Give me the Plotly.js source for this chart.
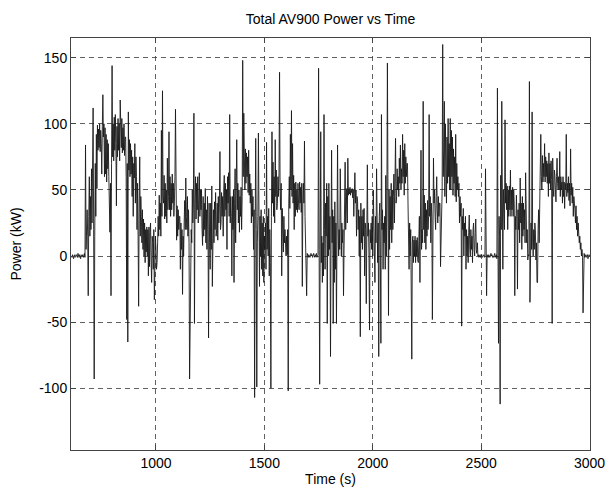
<!DOCTYPE html>
<html>
<head>
<meta charset="utf-8">
<script src="https://cdn.plot.ly/plotly-3.0.1.min.js"></script>
<style>
  html, body { margin: 0; padding: 0; background: #fff; }
  #chart { width: 608px; height: 489px; }
</style>
</head>
<body>
<div id="chart"></div>
<script>
// Sampling of the recorded series (seconds)
const T_START = 610;
const T_STEP = 2.5;

// Total AV900 power (kW), one value per 2.5 s
const power = [
  // 610
  0, -1, 1, 0, -2, 0, 1, -1, 0, 1, 0, -1, 2, 0, -1, 1, 0, -2, 1, 0,
  // 660
  0, 1, -1, 0, 2, -1, 84, 5, 20, 35, 15, -30, 30, 60, 15, 45, 20, 66, 25, 60,
  // 710
  112, 20, -93, 15, 70, 30, 92, 51, 99, 80, 96, 82, 100, 79, 95, 85, 62, 98, 122, 90,
  // 760
  100, 60, 97, 62, 92, 56, 88, 66, 85, 60, 40, 18, 55, -30, 70, 144, 75, 100, 72, 105,
  // 810
  80, 107, 85, 38, 98, 75, 104, 80, 100, 72, 118, 95, 82, 104, 78, 97, 80, 100, 76, 90,
  // 860
  90, 60, -48, 70, -65, 109, 65, 88, 60, 85, 62, 80, 45, 75, 30, 70, 59, 85, 40, 75,
  // 910
  60, 20, 55, 15, -38, 40, 75, 15, 45, 30, 10, 35, 5, 28, 0, 25, -5, 20, 3, 22,
  // 960
  0, 20, -15, 22, -8, 18, 25, -5, -20, 15, 10, -10, 20, -33, 0, 15, 5, -10, -5, 10,
  // 1010
  30, 15, 46, 20, 40, 15, 95, 30, 125, 45, 40, 61, 28, 55, 30, 50, 25, 74, 35, 45,
  // 1060
  94, 35, 60, 30, 55, 35, 62, 40, 55, 30, 41, 60, 111, 20, 12, 38, 15, 35, 20, 30,
  // 1110
  30, -10, 25, 5, 20, -29, 15, 0, 25, 42, 20, 59, 30, 20, 45, 15, 35, 10, -93, -43,
  // 1160
  -43, 20, 10, 50, 25, 40, 108, -51, 40, 60, 28, 55, 35, 60, 25, 55, 63, 30, 50, 35,
  // 1210
  50, 20, 8, 45, 15, 40, 20, 51, 10, 35, 5, 45, 20, -62, 40, 10, -10, 40, 5, 53,
  // 1260
  -23, 30, 35, 10, 41, 20, 48, 15, 20, 40, 12, 45, 25, 40, 79, 20, 25, 48, 30, 45,
  // 1310
  15, 50, 61, 30, 55, 35, 50, 5, 60, 40, 63, 30, 107, 25, 45, 30, -15, 45, 20, 50,
  // 1360
  -20, 40, 66, 10, 50, 88, 35, 55, 25, 50, 18, 45, 30, 52, 20, 45, 148, 60, 108, 70,
  // 1410
  50, 81, 55, 78, 60, 75, 48, 80, 46, 62, 40, 55, 25, 50, 30, 45, 5, 35, -107, 20,
  // 1460
  89, 20, -99, 10, 30, 93, 15, -23, 30, 0, 35, -10, 25, -15, 30, -20, 15, 5, 25, -10,
  // 1510
  86, 5, 30, 0, 36, -15, 20, -5, -100, 30, 94, 40, 71, 30, 60, 25, 88, 45, 65, 35,
  // 1560
  40, 60, 45, 63, 139, 50, 35, 55, -15, 36, 20, 3, 30, 10, 20, 5, 0, 15, 1, 20,
  // 1610
  -102, 40, 60, 36, 92, 50, 110, 45, 85, 40, 61, 20, 55, 30, 56, 35, 50, 33, 55, 40,
  // 1660
  35, 56, 40, 52, 33, 55, -23, 45, 55, 40, 87, 30, 10, 5, -30, 2, 0, -1, 1, 0,
  // 1710
  -1, 0, 2, 0, 1, -1, 0, 2, 0, -1, 1, 0, 2, -1, 0, 1, 142, 5, -97, 10,
  // 1760
  94, -5, 15, -20, 10, -15, 107, 20, -10, 40, 15, 55, -51, 45, 0, 55, 5, 30, -76, 10,
  // 1810
  80, 10, 35, -51, 30, -20, 41, -10, 25, -51, 20, 84, 25, 0, 20, 5, 66, 10, 0, 25,
  // 1860
  10, 20, -30, 5, 25, 71, 20, 30, 51, 25, 74, 46, 51, 47, 52, 46, 50, 48, 51, 44,
  // 1910
  50, 30, 46, 63, 40, 50, 15, 45, 41, 20, 35, 0, 30, -61, 40, 10, 30, 5, 35, 15,
  // 1960
  36, -15, 25, 20, -36, 30, 69, 15, 25, 0, -56, 20, 10, 25, 5, 30, 0, 50, 15, 25,
  // 2010
  -20, 30, 10, 66, 20, -5, 25, -76, 30, 40, 0, -66, 107, 20, 35, -10, 25, 10, 30, -10,
  // 2060
  61, 0, 40, 146, 15, -45, 50, 5, 45, 20, 55, 10, 50, 20, 45, 62, 25, 50, 89, 40,
  // 2110
  45, 66, 50, 60, 45, 74, 55, 84, 50, 66, 55, 92, 60, 80, 46, 85, 55, 75, 60, 70,
  // 2160
  70, 40, 20, -10, 25, 0, 20, -61, -78, 10, 15, -5, 12, 0, 15, -5, 12, 0, 14, -3,
  // 2210
  -5, 12, 30, -20, 10, 80, 5, 20, 10, 117, 20, 46, 10, 40, 5, 35, 15, 42, 20, 30,
  // 2260
  107, 30, 45, 10, 40, 30, -48, 45, 74, 40, 50, 30, 20, 45, 60, 35, 25, 45, 30, 40,
  // 2310
  40, -8, 25, 20, 50, 160, 60, 80, 117, 45, 100, 55, 40, 90, 55, 104, 60, 85, 50, 104,
  // 2360
  50, 95, 60, 90, 46, 81, 55, 75, 45, 92, 41, 70, 50, 60, 45, 55, 25, 45, 30, 40,
  // 2410
  -53, 30, 20, 36, 0, 25, 15, 30, -10, 20, 0, 15, -5, 18, 31, 5, 0, 20, 5, 15,
  // 2460
  -5, 20, 25, 5, 0, 18, 28, 5, 2, 10, 0, 1, -1, 0, 1, -1, 0, 1, -1, 0,
  // 2510
  0, 1, -1, 0, 66, 0, -30, 1, 0, -1, 1, 0, -1, 0, 2, 0, 1, -1, 0, -1,
  // 2560
  0, 2, -1, 0, 1, -2, 127, 10, -66, 30, 15, -112, 61, 20, 117, 45, -10, 50, 35, 20,
  // 2610
  103, 40, 55, 35, 53, 20, 50, 30, 53, 35, 65, 30, 50, 35, 52, 30, 50, 40, -30, 30,
  // 2660
  20, 46, 30, -25, 35, 20, 40, 10, 59, 25, 40, 5, 45, 15, 40, 20, 35, 10, 63, 30,
  // 2710
  10, 20, -3, 1, 0, 132, -35, 20, 25, 5, 109, 10, 0, 20, 5, 25, 20, -3, 10, -20,
  // 2760
  -20, 20, 35, 10, 40, 30, 92, 60, 50, 76, 56, 70, 60, 85, 56, 75, 60, 72, 55, 70,
  // 2810
  45, 78, 55, 70, 50, 72, 58, -51, 74, 50, 45, 65, 61, 50, 41, 60, 74, 55, 50, 60,
  // 2860
  50, 79, 45, 60, 50, 56, 40, 60, 45, 56, 36, 55, 50, 92, 45, 55, 48, 60, 42, 55,
  // 2910
  38, 81, 46, 55, 40, 52, 30, 45, 40, 35, 25, 38, 20, 30, 15, 25, 20, 10, 15, 5,
  // 2960
  10, 0, 5, -1, -43, 0, 2, -1, 0, 1, -1, 0, 1, -2, 0, 1, 0
];

const time = power.map((_, i) => T_START + i * T_STEP);

const xTicks = [1000, 1500, 2000, 2500, 3000];
const yTicks = [-100, -50, 0, 50, 100, 150];

const FONT = 'Liberation Sans, Arial, Helvetica, sans-serif';

const trace = {
  type: 'scatter',
  mode: 'lines',
  x: time,
  y: power,
  line: { color: '#1a1a1a', width: 0.9 },
  hoverinfo: 'skip'
};

const axisCommon = {
  showline: true,
  linecolor: '#444',
  linewidth: 1,
  mirror: 'ticks',
  ticks: 'inside',
  ticklen: 5,
  tickwidth: 1,
  tickcolor: '#444',
  showgrid: true,
  gridcolor: '#3a3a3a',
  gridwidth: 0.8,
  griddash: '5px,4px',
  zeroline: false,
  tickfont: { family: FONT, size: 14, color: '#000' }
};

const layout = {
  width: 608,
  height: 489,
  margin: { l: 71, r: 18, t: 38, b: 39 },
  paper_bgcolor: '#fff',
  plot_bgcolor: '#fff',
  showlegend: false,
  title: {
    text: 'Total AV900 Power vs Time',
    font: { family: FONT, size: 14, color: '#000' },
    x: 0.5, xref: 'paper', xanchor: 'center',
    y: 0.96, yref: 'container', yanchor: 'middle'
  },
  xaxis: Object.assign({}, axisCommon, {
    range: [608, 3002],
    tickvals: xTicks,
    ticktext: xTicks.map(String),
    title: { text: 'Time (s)', font: { family: FONT, size: 14, color: '#000' }, standoff: 4 }
  }),
  yaxis: Object.assign({}, axisCommon, {
    range: [-146.7, 164.9],
    tickvals: yTicks,
    ticktext: yTicks.map(String),
    title: { text: 'Power (kW)', font: { family: FONT, size: 14, color: '#000' }, standoff: 14 }
  })
};

Plotly.newPlot('chart', [trace], layout, { staticPlot: true, displayModeBar: false });
</script>
</body>
</html>
